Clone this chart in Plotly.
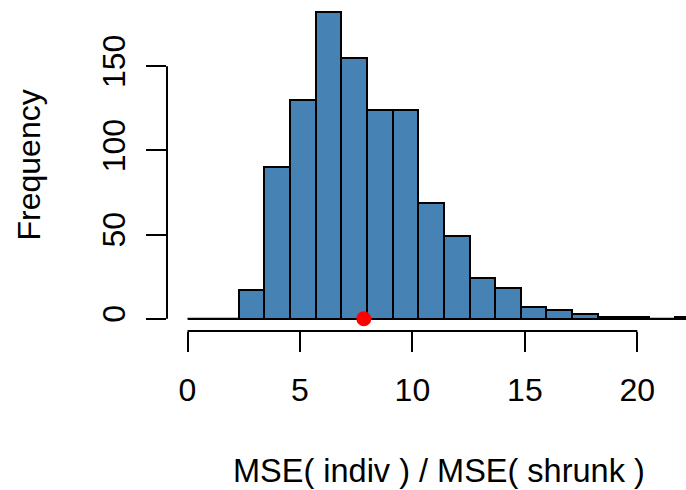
import plotly.graph_objects as go

# histogram data
breaks = [0.0, 1.14, 2.28, 3.42, 4.56, 5.70, 6.84, 7.98, 9.12, 10.26, 11.40,
          12.54, 13.68, 14.82, 15.96, 17.10, 18.24, 19.38, 20.52, 21.66, 22.80]
counts = [0, 0, 17, 90, 130, 182, 155, 124, 124, 69, 49, 24, 18, 7, 5, 3, 1, 1, 0, 1]
x_ticks = [0, 5, 10, 15, 20]
y_ticks = [0, 50, 100, 150]
observed_value = 7.84

centers = [(breaks[i] + breaks[i + 1]) / 2 for i in range(len(counts))]
widths = [breaks[i + 1] - breaks[i] for i in range(len(counts))]

FONT = "Liberation Sans, Arial, Helvetica, sans-serif"
FS = 32

fig = go.Figure()
fig.add_trace(go.Bar(
    x=centers, y=counts, width=widths,
    marker=dict(color="#4682B4", line=dict(color="black", width=2)),
    showlegend=False, hoverinfo="skip",
))
fig.add_trace(go.Scatter(
    x=[observed_value], y=[0], mode="markers",
    marker=dict(color="red", size=15, line=dict(width=0)),
    cliponaxis=False, showlegend=False, hoverinfo="skip",
))

# baseline of histogram (zero-count bins appear as flat lines)
fig.add_shape(type="line", xref="x", yref="y", x0=breaks[0], x1=breaks[-1], y0=0, y1=0,
              line=dict(color="black", width=2), layer="below")
# R-style axis lines spanning only the tick range
fig.add_shape(type="line", xref="x", yref="paper", x0=x_ticks[0], x1=x_ticks[-1], y0=0, y1=0,
              line=dict(color="black", width=2))
fig.add_shape(type="line", xref="paper", yref="y", x0=0, x1=0, y0=y_ticks[0], y1=y_ticks[-1],
              line=dict(color="black", width=2))

fig.update_xaxes(
    range=[-0.912, 22.164], showgrid=False, zeroline=False, showline=False, automargin=False,
    tickmode="array", tickvals=x_ticks, ticktext=[str(v) for v in x_ticks],
    ticks="outside", ticklen=20, tickwidth=2, tickcolor="black",
    tickfont=dict(family=FONT, size=FS, color="black"), ticklabelstandoff=11,
)
fig.update_yaxes(
    range=[-7.28, 189.28], showgrid=False, zeroline=False, showline=False, automargin=False,
    tickmode="array", tickvals=y_ticks, ticktext=[str(v) for v in y_ticks],
    ticks="outside", ticklen=20, tickwidth=2, tickcolor="black", tickangle=-90,
    tickfont=dict(family=FONT, size=FS, color="black"), ticklabelstandoff=8,
)

fig.add_annotation(text="MSE( indiv ) / MSE( shrunk )", xref="x", yref="paper",
                   x=11.18, y=0, yanchor="middle", xanchor="center",
                   yshift=-140, showarrow=False,
                   font=dict(family=FONT, size=32.5, color="black"))
fig.add_annotation(text="Frequency", xref="paper", yref="y",
                   x=0, y=91, xanchor="center", yanchor="middle", textangle=-90,
                   xshift=-139, showarrow=False,
                   font=dict(family=FONT, size=FS, color="black"))

fig.update_layout(
    width=686, height=490,
    margin=dict(l=166.8, r=0, t=0, b=159.1, pad=0),
    plot_bgcolor="white", paper_bgcolor="white",
    bargap=0,
)
fig.write_html("out.html", config={"displayModeBar": False},
               post_script="document.body.style.margin='0';document.body.style.overflow='hidden';")
